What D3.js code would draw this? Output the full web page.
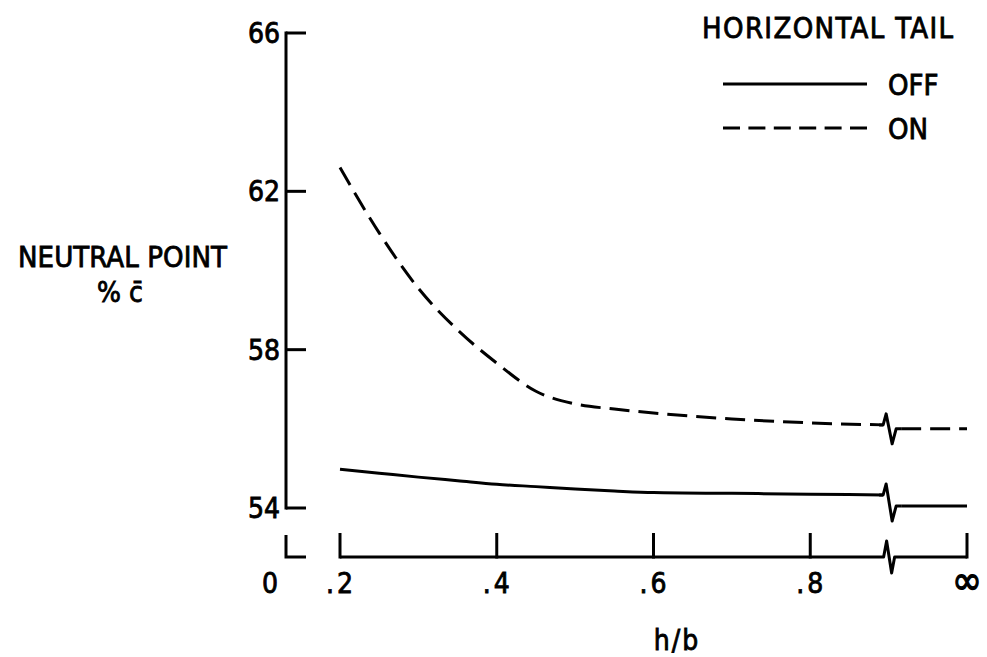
<!DOCTYPE html>
<html>
<head>
<meta charset="utf-8">
<script src="https://cdn.jsdelivr.net/npm/d3@7/dist/d3.min.js"></script>
<style>
  html, body { margin: 0; padding: 0; background: #fff; }
  svg { display: block; }
  text { font-family: "DejaVu Sans Condensed", "Liberation Sans Narrow", "DejaVu Sans", sans-serif;
         fill: #000; stroke: #000; stroke-width: 0.8px; }
</style>
</head>
<body>
<div id="chart"></div>
<script>
// h/b values (last point sits just before the axis break)
var hb = [0.2, 0.25, 0.3, 0.35, 0.4, 0.45, 0.5, 0.55, 0.6, 0.7, 0.8, 0.893];
// neutral point, % c-bar
var tailOff = [54.98, 54.88, 54.78, 54.69, 54.6, 54.54, 54.48, 54.43, 54.39, 54.37, 54.35, 54.33];
var tailOn = [62.6, 60.95, 59.55, 58.5, 57.66, 56.95, 56.63, 56.5, 56.4, 56.25, 56.15, 56.1];
// values at h/b = infinity (drawn after the break)
var offInf = 54.05;
var onInf = 56.0;

var yTicks = [54, 58, 62, 66];
var xTicks = [0.2, 0.4, 0.6, 0.8];
var xTickLabels = [".2", ".4", ".6", ".8"];
var hbBreak = 0.9;
var hbInf = 1.0;

var width = 987, height = 657;
var svg = d3.select("#chart")
    .append("svg")
    .attr("width", width)
    .attr("height", height)
    .attr("xmlns", "http://www.w3.org/2000/svg");

var x = d3.scaleLinear().domain([0.2, hbInf]).range([340, 967]);
var y = d3.scaleLinear().domain([54, 66]).range([508, 33]);

var axisX = 286;      // where the y axis stands (also the broken "0" of h/b)
var axisY = 557;      // where the h/b axis lies
var lw = 3;

// ---- y axis: line with ticks pointing right
svg.append("line")
    .attr("x1", axisX).attr("x2", axisX)
    .attr("y1", y(66) - 1.5).attr("y2", y(54) + 1.5)
    .attr("stroke", "#000").attr("stroke-width", lw);
svg.selectAll("line.ytick")
    .data(yTicks)
    .enter().append("line")
    .attr("class", "ytick")
    .attr("x1", axisX).attr("x2", axisX + 20)
    .attr("y1", function(d) { return y(d); })
    .attr("y2", function(d) { return y(d); })
    .attr("stroke", "#000").attr("stroke-width", lw);
svg.selectAll("text.ylab")
    .data(yTicks)
    .enter().append("text")
    .attr("class", "ylab")
    .attr("x", axisX - 6)
    .attr("y", function(d) { return y(d) + 10; })
    .attr("text-anchor", "end")
    .style("font-size", "28px")
    .text(function(d) { return d; });

// ---- broken origin of h/b axis
svg.append("path")
    .attr("d", "M" + axisX + "," + (axisY - 22) + "V" + axisY + "H" + (axisX + 20))
    .attr("fill", "none").attr("stroke", "#000").attr("stroke-width", lw);
svg.append("text")
    .attr("x", axisX - 16).attr("y", 593)
    .attr("text-anchor", "middle")
    .style("font-size", "28px")
    .text("0");

// ---- h/b axis with break before infinity
var xb = x(hbBreak);
var xAxisPath = "M" + x(0.2) + "," + axisY + "H" + (xb - 5) +
    "L" + (xb - 2) + "," + (axisY - 16) +
    "L" + (xb + 3) + "," + (axisY + 16) +
    "L" + (xb + 6) + "," + axisY + "H" + x(hbInf);
svg.append("path")
    .attr("d", xAxisPath)
    .attr("fill", "none").attr("stroke", "#000").attr("stroke-width", lw)
    .attr("stroke-linejoin", "round");
svg.selectAll("line.xtick")
    .data(xTicks.concat([hbInf]))
    .enter().append("line")
    .attr("class", "xtick")
    .attr("x1", function(d) { return x(d); })
    .attr("x2", function(d) { return x(d); })
    .attr("y1", axisY + 1.5).attr("y2", axisY - 24)
    .attr("stroke", "#000").attr("stroke-width", lw);
svg.selectAll("text.xlab")
    .data(xTicks)
    .enter().append("text")
    .attr("class", "xlab")
    .attr("x", function(d) { return x(d) + 1; })
    .attr("y", 593)
    .attr("text-anchor", "middle")
    .style("font-size", "28px")
    .style("letter-spacing", "3px")
    .text(function(d, i) { return xTickLabels[i]; });
svg.append("text")
    .attr("x", x(hbInf)).attr("y", 594)
    .attr("text-anchor", "middle")
    .style("font-size", "40px")
    .style("stroke-width", "1.2px")
    .text("\u221E");

svg.append("text")
    .attr("x", 677).attr("y", 650)
    .attr("text-anchor", "middle")
    .style("font-size", "28px")
    .style("letter-spacing", "2px")
    .text("h/b");

// ---- y axis title
svg.append("text")
    .attr("x", 18).attr("y", 267)
    .attr("textLength", 209).attr("lengthAdjust", "spacing")
    .style("font-size", "29px")
    .text("NEUTRAL POINT");
svg.append("text")
    .attr("x", 120).attr("y", 302)
    .attr("text-anchor", "middle")
    .style("font-size", "28px")
    .text("% c\u0304");

// ---- curves
var line = d3.line()
    .x(function(d) { return x(d[0]); })
    .y(function(d) { return y(d[1]); })
    .curve(d3.curveMonotoneX);

function drawSeries(vals, infVal, dash) {
    var pts = hb.map(function(h, i) { return [h, vals[i]]; });
    var x0 = x(hb[hb.length - 1]);
    var y1 = y(vals[vals.length - 1]);
    var y2 = y(infVal);
    // before the break
    svg.append("path")
        .attr("d", line(pts))
        .attr("fill", "none").attr("stroke", "#000").attr("stroke-width", lw)
        .attr("stroke-dasharray", dash);
    // the break mark
    svg.append("path")
        .attr("d", "M" + (x0 - 4) + "," + y1 + "L" + x0 + "," + y1 +
            "L" + (x0 + 3) + "," + (y1 - 11) +
            "L" + (x0 + 9) + "," + (y2 + 15) +
            "L" + (x0 + 13) + "," + y2 + "H" + (x0 + 18))
        .attr("fill", "none").attr("stroke", "#000").attr("stroke-width", lw)
        .attr("stroke-linejoin", "round");
    // after the break, level out to infinity
    svg.append("path")
        .attr("d", line([[x.invert(x0 + 18), infVal], [hbInf, infVal]]))
        .attr("fill", "none").attr("stroke", "#000").attr("stroke-width", lw)
        .attr("stroke-dasharray", dash);
}
drawSeries(tailOff, offInf, null);
drawSeries(tailOn, onInf, "20,9");

// ---- legend
svg.append("text")
    .attr("x", 702).attr("y", 38)
    .attr("textLength", 251).attr("lengthAdjust", "spacing")
    .style("font-size", "29px")
    .text("HORIZONTAL TAIL");
var legend = [
    { label: "OFF", dash: null, cy: 84 },
    { label: "ON", dash: "17,8.4", cy: 128 }
];
svg.selectAll("line.leg")
    .data(legend)
    .enter().append("line")
    .attr("class", "leg")
    .attr("x1", 723).attr("x2", 867)
    .attr("y1", function(d) { return d.cy; })
    .attr("y2", function(d) { return d.cy; })
    .attr("stroke", "#000").attr("stroke-width", lw)
    .attr("stroke-dasharray", function(d) { return d.dash; });
svg.selectAll("text.leg")
    .data(legend)
    .enter().append("text")
    .attr("class", "leg")
    .attr("x", 888)
    .attr("y", function(d) { return d.cy + 11; })
    .style("font-size", "29px")
    .text(function(d) { return d.label; });
</script>
</body>
</html>
